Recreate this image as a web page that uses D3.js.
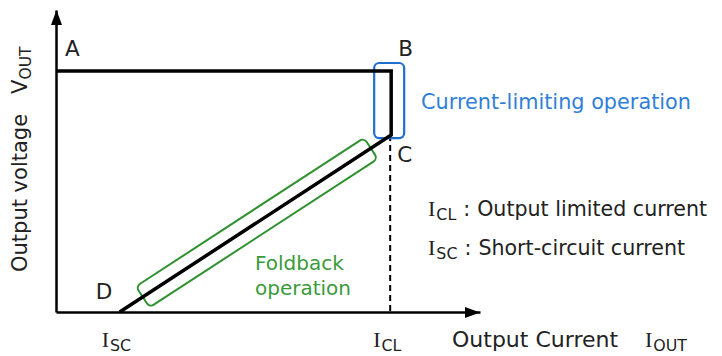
<!DOCTYPE html>
<html>
<head>
<meta charset="utf-8">
<script src="https://cdn.jsdelivr.net/npm/d3@7"></script>
<style>
  body { margin: 0; background: #fff; }
  text { font-family: "DejaVu Sans", Verdana, sans-serif; }
  .serif { font-family: "Liberation Serif", "Times New Roman", serif; }
</style>
</head>
<body>
<svg id="chart" width="722" height="356"></svg>
<script>
// Foldback current limiting characteristic, relative units (I_CL = 1, nominal V = 1)
const pointLabels = ["A", "B", "C", "D"];
const currentValues = [0, 1, 1, 0.19];
const voltageValues = [1, 1, 0.734, 0];

// marked currents on the x axis
const tickSubs = ["SC", "CL"];
const tickValues = [0.19, 1];

// legend lines
const legendSubs = ["CL", "SC"];
const legendTexts = ["Output limited current", "Short-circuit current"];

const BLUE = "#1f6fd0";
const GREEN = "#2f912f";
const INK = "#222";

const svg = d3.select("#chart");

const x = d3.scaleLinear().domain([0, 1.265]).range([56, 480]);
const y = d3.scaleLinear().domain([0, 1.253]).range([312, 10]);

const points = pointLabels.map((d, i) => ({label: d, i: currentValues[i], v: voltageValues[i]}));
const byLabel = {};
points.forEach(p => byLabel[p.label] = p);

// axes (line only, arrow heads drawn after)
svg.append("g")
  .attr("transform", `translate(0,${y(0)})`)
  .call(d3.axisBottom(x).tickValues([]).tickSizeOuter(0))
  .select(".domain").attr("stroke", "#000").attr("stroke-width", 2.5);

svg.append("g")
  .attr("transform", `translate(${x(0)},0)`)
  .call(d3.axisLeft(y).tickValues([]).tickSizeOuter(0))
  .select(".domain").attr("stroke", "#000").attr("stroke-width", 2.5);

// arrow heads
function arrow(tx, ty, dir) {
  const p = d3.path();
  if (dir === "right") {
    p.moveTo(tx, ty); p.lineTo(tx - 15, ty - 5.5); p.lineTo(tx - 15, ty + 5.5);
  } else {
    p.moveTo(tx, ty); p.lineTo(tx - 5.5, ty + 15); p.lineTo(tx + 5.5, ty + 15);
  }
  p.closePath();
  svg.append("path").attr("d", p.toString()).attr("fill", "#000");
}
arrow(x(x.domain()[1]), y(0) + 0.5, "right");
arrow(x(0) + 0.5, y(y.domain()[1]), "up");

// dashed drop from C to the current axis
const C = byLabel.C, B = byLabel.B, D = byLabel.D;
svg.append("line")
  .attr("x1", x(C.i) - 1).attr("x2", x(C.i) - 1)
  .attr("y1", y(C.v)).attr("y2", y(0))
  .attr("stroke", "#000").attr("stroke-width", 2)
  .attr("stroke-dasharray", "6,4");

// blue box around the current-limiting section B-C
svg.append("rect")
  .attr("x", x(B.i) - 17).attr("y", y(B.v) - 8)
  .attr("width", 30).attr("height", y(C.v) - y(B.v) + 11)
  .attr("rx", 5)
  .attr("fill", "none").attr("stroke", BLUE).attr("stroke-width", 2.2);

// green box along the foldback section C-D
const dx = x(C.i) - x(D.i), dy = y(C.v) - y(D.v);
const len = Math.hypot(dx, dy);
const ang = Math.atan2(dy, dx) * 180 / Math.PI;
svg.append("g")
  .attr("transform", `translate(${x(D.i)},${y(D.v)}) rotate(${ang})`)
  .append("rect")
  .attr("x", len * 0.085).attr("y", -12.5)
  .attr("width", len * (0.925 - 0.085)).attr("height", 25)
  .attr("rx", 5)
  .attr("fill", "none").attr("stroke", GREEN).attr("stroke-width", 2);

// the characteristic itself
const line = d3.line().x(d => x(d.i)).y(d => y(d.v));
svg.append("path")
  .datum(points)
  .attr("d", line)
  .attr("fill", "none").attr("stroke", "#000")
  .attr("stroke-width", 3.5).attr("stroke-linejoin", "miter");

// point letters
const labelOffset = {A: [9, -15], B: [7, -15], C: [6, 27], D: [-24, -13]};
svg.selectAll(".pt")
  .data(points)
  .join("text")
  .attr("class", "pt")
  .attr("x", d => x(d.i) + labelOffset[d.label][0])
  .attr("y", d => y(d.v) + labelOffset[d.label][1])
  .attr("font-size", 21.5)
  .attr("fill", INK)
  .text(d => d.label);

// region captions
svg.append("text")
  .attr("x", 421).attr("y", 109)
  .attr("font-size", 20.8).attr("fill", "#2f7fd8")
  .text("Current-limiting operation");

svg.append("text")
  .attr("x", 255).attr("y", 270)
  .attr("font-size", 20).attr("fill", "#3a9a3a")
  .selectAll("tspan")
  .data(["Foldback", "operation"])
  .join("tspan")
  .attr("x", 255)
  .attr("dy", (d, i) => i === 0 ? 0 : 25)
  .text(d => d);

// I with sans subscript
function currentSymbol(g, sx, sy, sub, size) {
  const t = g.append("text").attr("x", sx).attr("y", sy).attr("fill", INK);
  t.append("tspan").attr("class", "serif").attr("font-size", size).text("I");
  t.append("tspan").attr("font-size", size * 0.72).attr("dx", 1).attr("dy", 4).text(sub);
  return t;
}

// tick symbols under the axis
tickValues.forEach((v, i) => {
  currentSymbol(svg, x(v) - 18, 347, tickSubs[i], 22);
});

// axis titles
svg.append("text").attr("x", 452).attr("y", 347).attr("fill", INK)
  .attr("font-size", 22).text("Output Current");
currentSymbol(svg, 645, 347, "OUT", 22);

const yt = svg.append("text")
  .attr("transform", "translate(27,272) rotate(-90)")
  .attr("fill", INK);
yt.append("tspan").attr("font-size", 21).text("Output voltage");
yt.append("tspan").attr("font-size", 21).attr("dx", 20).text("V");
yt.append("tspan").attr("font-size", 15.5).attr("dy", 4).text("OUT");

// legend
legendSubs.forEach((s, i) => {
  const t = currentSymbol(svg, 428, 216 + i * 39, s, 22);
  t.append("tspan").attr("font-size", 20.6).attr("dy", -4).attr("dx", 7).text(":");
  t.append("tspan").attr("font-size", 20.6).attr("dx", 7).text(legendTexts[i]);
});
</script>
</body>
</html>
